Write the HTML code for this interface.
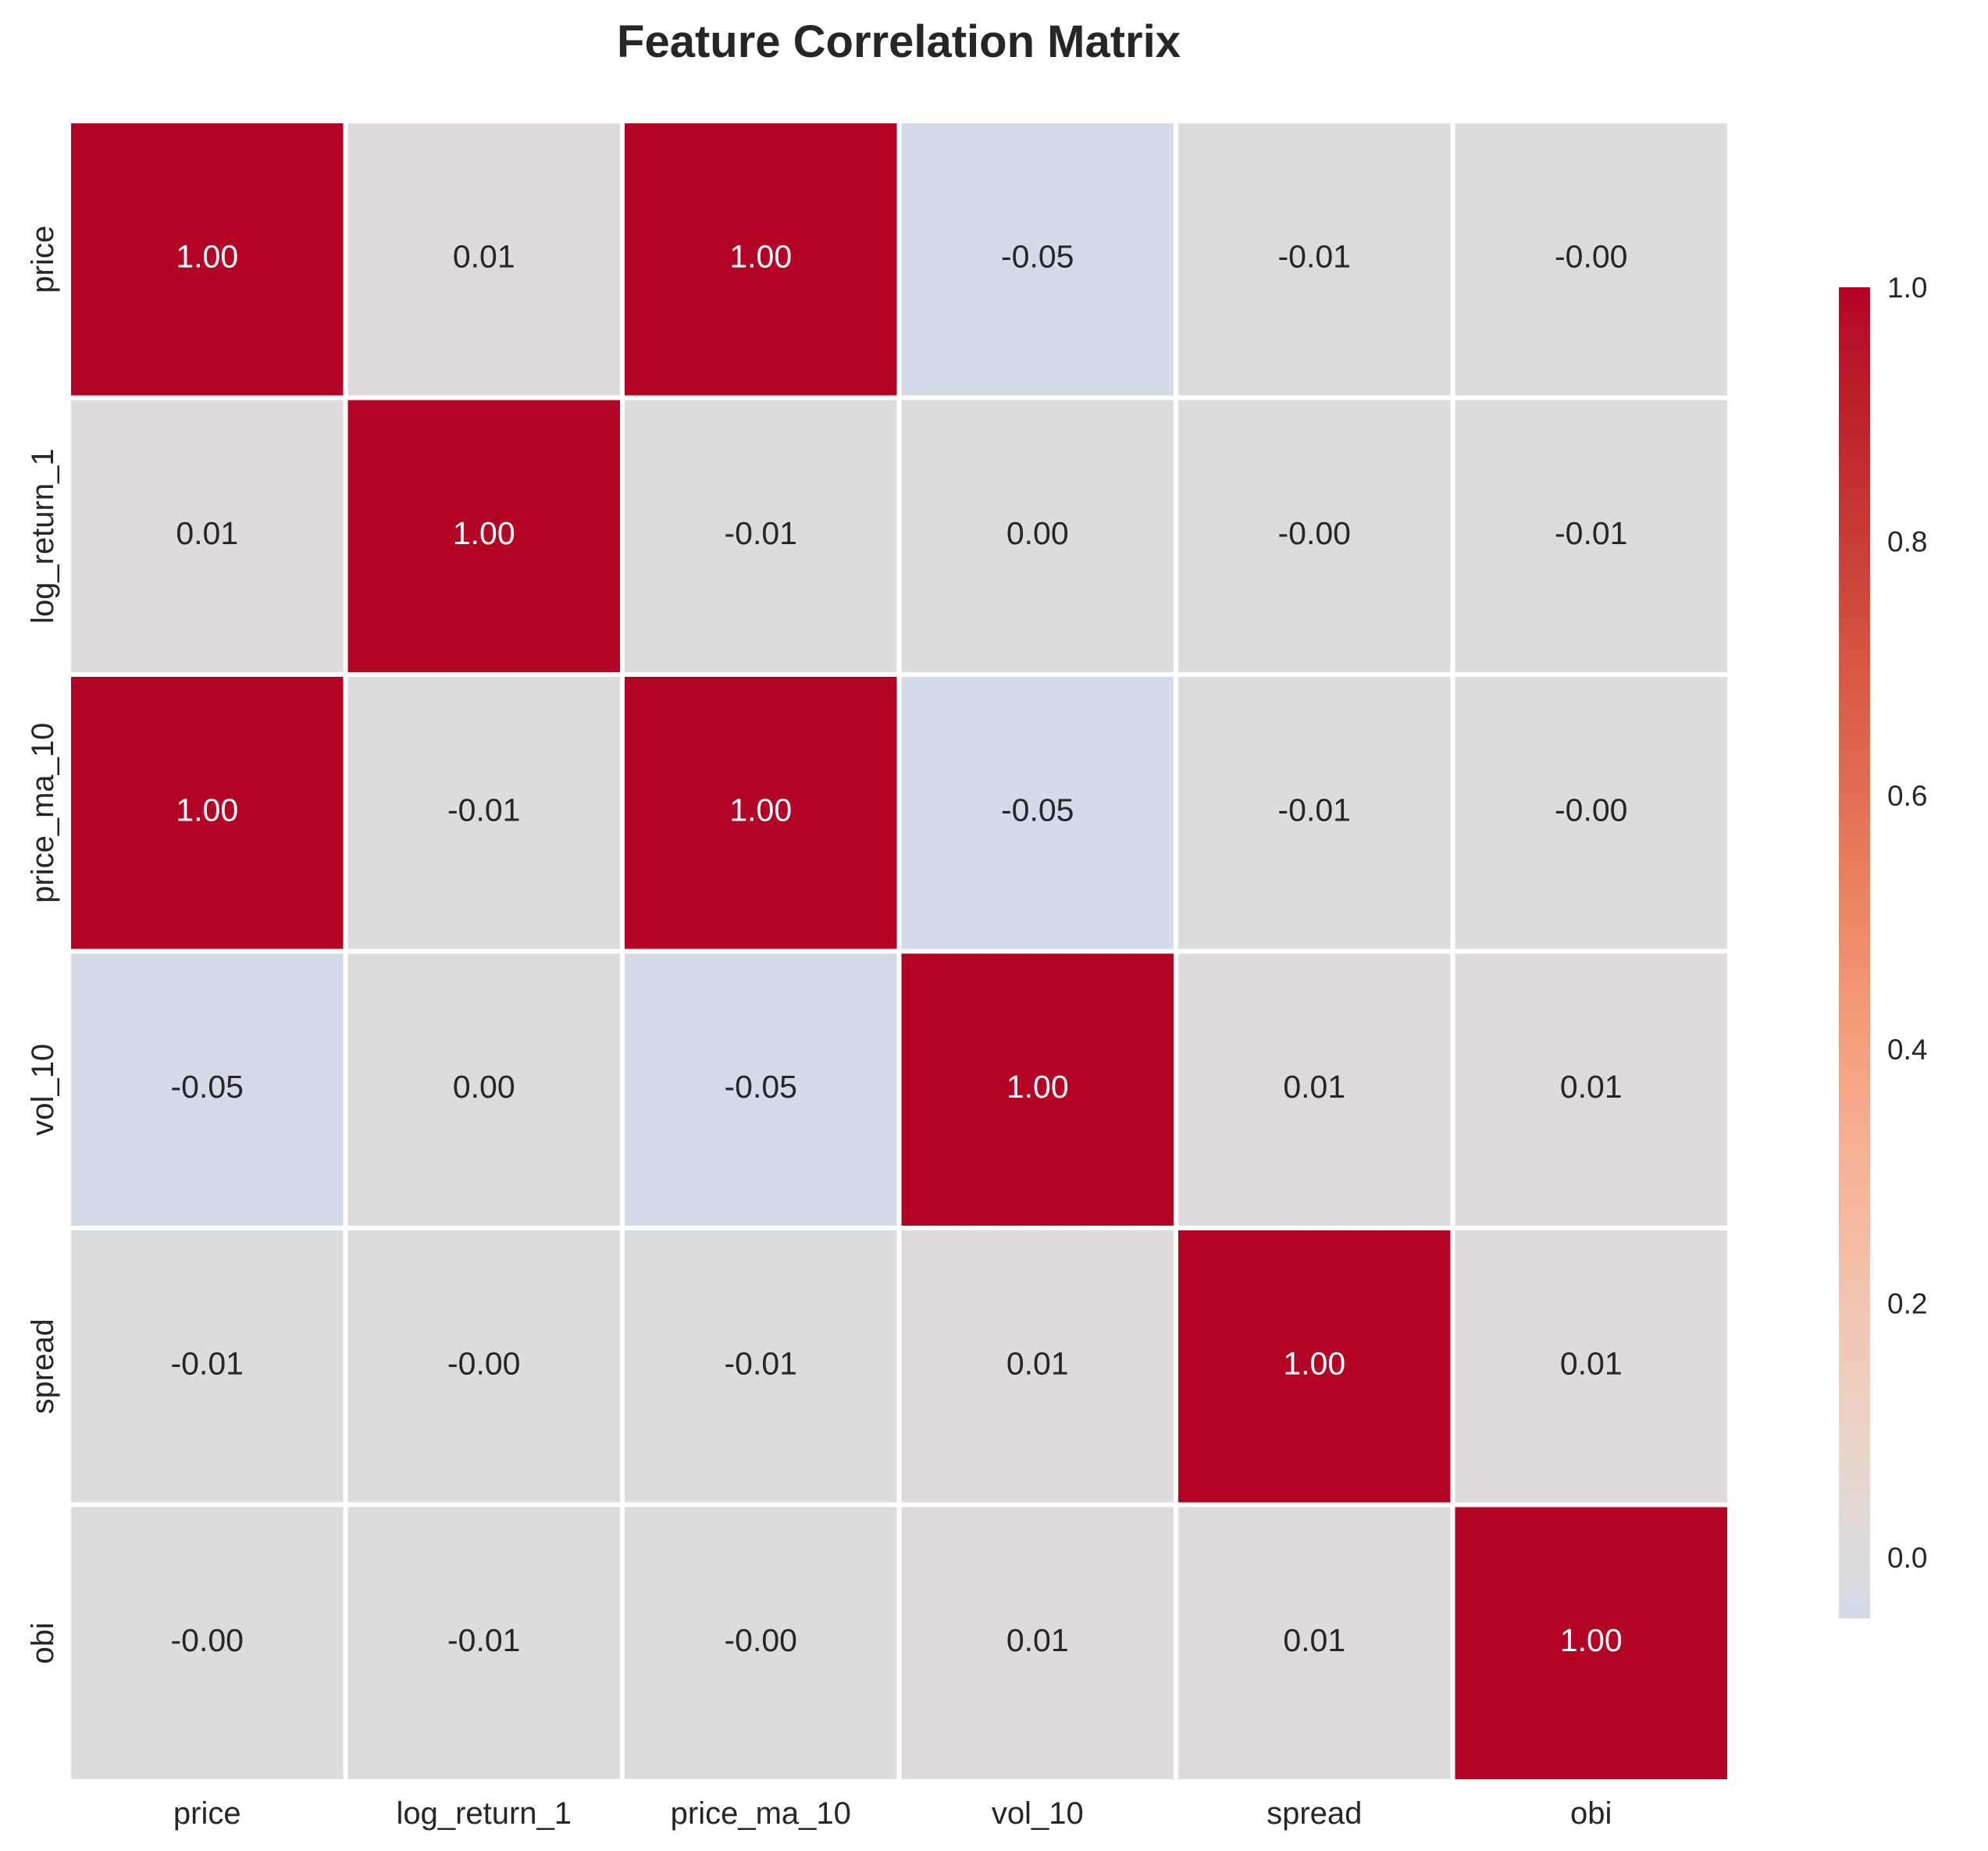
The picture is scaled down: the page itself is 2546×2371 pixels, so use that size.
<!DOCTYPE html>
<html><head><meta charset="utf-8">
<style>
html,body{margin:0;padding:0;background:#fff;}
svg{display:block;font-family:"Liberation Sans",Arial,sans-serif;}
</style></head>
<body>
<svg id="chart" width="2546" height="2371" viewBox="0 0 2546 2371" xmlns="http://www.w3.org/2000/svg">
<defs><linearGradient id="cbgrad" x1="0" y1="1" x2="0" y2="0"></linearGradient></defs>
<text x="1151" y="73" text-anchor="middle" font-size="58" font-weight="bold" fill="#262626">Feature Correlation Matrix</text>
<g id="cells"></g>
<g id="xlabels"></g>
<g id="ylabels"></g>
<g id="colorbar"></g>
</svg>
<script>
const features = ["price","log_return_1","price_ma_10","vol_10","spread","obi"];
const rowPrice   = [1.00, 0.01, 1.00, -0.05, -0.01, -0.001];
const rowLogRet  = [0.01, 1.00, -0.01, 0.002, -0.001, -0.01];
const rowPriceMa = [1.00, -0.01, 1.00, -0.05, -0.01, -0.001];
const rowVol     = [-0.05, 0.002, -0.05, 1.00, 0.01, 0.01];
const rowSpread  = [-0.01, -0.001, -0.01, 0.01, 1.00, 0.01];
const rowObi     = [-0.001, -0.01, -0.001, 0.01, 0.01, 1.00];
const matrix = [rowPrice,rowLogRet,rowPriceMa,rowVol,rowSpread,rowObi];
const cbTicks = [0.0,0.2,0.4,0.6,0.8,1.0];
const vmin = -0.048, vmax = 1.0;

const NS="http://www.w3.org/2000/svg";
const gLeft=88, gTop=155, gSize=2127, nCells=features.length, cellSize=gSize/nCells;
function xPos(i){return gLeft+i*cellSize;}
function yPos(i){return gTop+i*cellSize;}
const stops=[[0,59,76,192],[0.1,85,114,228],[0.2,114,151,254],[0.3,144,178,254],[0.4,175,202,252],[0.45,196,213,243],[0.475,211,219,232],[0.5,221,220,220],[0.55,235,211,199],[0.6,242,196,176],[0.65,246,180,152],[0.7,245,160,128],[0.75,237,136,104],[0.8,226,110,84],[0.85,214,88,68],[0.9,200,60,52],[0.95,190,34,43],[1,180,4,38]];
function coolwarm(t){t=Math.max(0,Math.min(1,t));for(let i=1;i<stops.length;i++){if(t<=stops[i][0]){const a=stops[i-1],b=stops[i];const f=(t-a[0])/(b[0]-a[0]);return `rgb(${Math.round(a[1]+f*(b[1]-a[1]))},${Math.round(a[2]+f*(b[2]-a[2]))},${Math.round(a[3]+f*(b[3]-a[3]))})`;}}return "rgb(180,4,38)";}
function color(v){return coolwarm(0.5+v/2);}
function mk(tag,attrs,parent){const e=document.createElementNS(NS,tag);for(const k in attrs)e.setAttribute(k,attrs[k]);parent.appendChild(e);return e;}

const gc=document.getElementById('cells');
matrix.forEach((row,r)=>row.forEach((v,c)=>{
  const rect=mk('rect',{x:xPos(c),y:yPos(r),width:cellSize,height:cellSize,fill:color(v),stroke:'#fff','stroke-width':6},gc);
  
  
  const t=mk('text',{x:xPos(c)+cellSize/2,y:yPos(r)+cellSize/2+10,'text-anchor':'middle','font-size':41,fill:v>0.6?'#ffffff':'#262626'},gc);
  t.textContent=v.toFixed(2);
  
  
}));
const gx=document.getElementById('xlabels'), gy=document.getElementById('ylabels');
features.forEach((f,i)=>{
  const t=mk('text',{x:xPos(i)+cellSize/2,y:2336,'text-anchor':'middle','font-size':40,fill:'#262626'},gx);
  t.textContent=f;
  
  
  const cy=yPos(i)+cellSize/2;
  const u=mk('text',{x:68,y:cy,'text-anchor':'middle','font-size':40,fill:'#262626',transform:`rotate(-90 68 ${cy})`},gy);
  u.textContent=f;
  
  
});
const cbX=2355, cbW=40, cbTop=368, cbBot=2073;
function cbY(v){return cbBot-(v-vmin)/(vmax-vmin)*(cbBot-cbTop);}
const grad=document.getElementById('cbgrad');
for(let k=0;k<=40;k++){const v=vmin+(vmax-vmin)*k/40;mk('stop',{offset:(k/40),'stop-color':color(v)},grad);}
const gcb=document.getElementById('colorbar');
const bar=mk('rect',{x:cbX,y:cbTop,width:cbW,height:cbBot-cbTop,fill:'url(#cbgrad)'},gcb);


cbTicks.forEach(v=>{
  const t=mk('text',{x:cbX+cbW+22,y:cbY(v)+13,'font-size':37,fill:'#262626'},gcb);
  t.textContent=v.toFixed(1);
  
  
});
</script>
</body></html>
